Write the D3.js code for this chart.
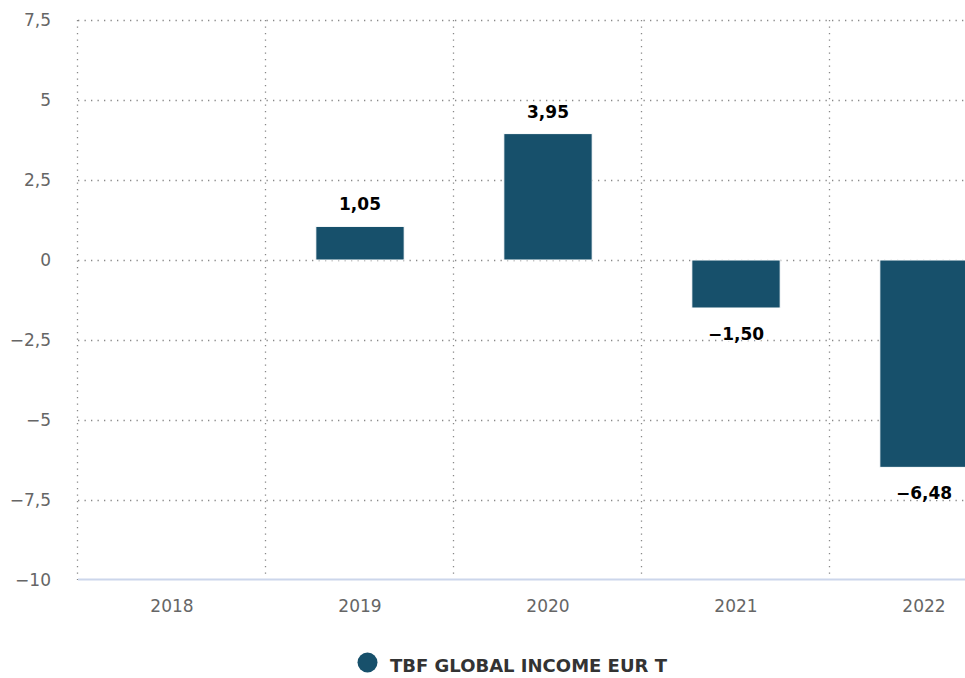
<!DOCTYPE html>
<html>
<head>
<meta charset="utf-8">
<script src="https://cdn.jsdelivr.net/npm/d3@7"></script>
<style>
  body { margin: 0; background: #fff; }
  svg { display: block; font-family: "DejaVu Sans", Verdana, sans-serif; }
</style>
</head>
<body>
<svg id="chart"></svg>
<script>
var years = ["2018", "2019", "2020", "2021", "2022"];
var values = [null, 1.05, 3.95, -1.50, -6.48];
var yTicks = [-10, -7.5, -5, -2.5, 0, 2.5, 5, 7.5];
var seriesName = "TBF GLOBAL INCOME EUR T";

var W = 965, H = 678;
var margin = { top: 20, right: -53, bottom: 98, left: 78 },
    width = W - margin.left - margin.right,
    height = H - margin.top - margin.bottom;

var svg = d3.select("#chart").attr("width", W).attr("height", H);
var g = svg.append("g").attr("transform", "translate(" + margin.left + "," + margin.top + ")");

var x = d3.scaleBand().domain(years).range([0, width]).paddingInner(0.53).paddingOuter(0.265);
var xGrid = d3.scaleBand().domain(years).range([0, width]);
var y = d3.scaleLinear().domain([-10, 7.5]).range([height, 0]);

var fmt = function (v) { return d3.format(",.1f")(v).replace(".", ",").replace(/,0$/, "").replace("-", "−"); };
var fmt2 = function (v) { return d3.format(".2f")(v).replace(".", ",").replace("-", "–"); };

// horizontal grid
g.append("g").selectAll("line").data(yTicks.filter(function (d) { return d > -10; }))
  .enter().append("line")
  .attr("x1", 0).attr("x2", W - margin.left)
  .attr("y1", function (d) { return y(d) + 0.5; }).attr("y2", function (d) { return y(d) + 0.5; })
  .attr("stroke", "#888").attr("stroke-width", 1.3).attr("stroke-dasharray", "1.3,5.2");

// vertical grid
g.append("g").selectAll("line").data(years)
  .enter().append("line")
  .attr("x1", function (d) { return xGrid(d) - 0.5; }).attr("x2", function (d) { return xGrid(d) - 0.5; })
  .attr("y1", 0).attr("y2", height)
  .attr("stroke", "#888").attr("stroke-width", 1.3).attr("stroke-dasharray", "1.3,5.2");

// x axis line
g.append("line").attr("x1", 0).attr("x2", W - margin.left)
  .attr("y1", height - 0.5).attr("y2", height - 0.5)
  .attr("stroke", "#ccd6eb").attr("stroke-width", 2);

// y labels
g.append("g").selectAll("text").data(yTicks).enter().append("text")
  .attr("x", -27).attr("y", function (d) { return y(d); })
  .attr("dy", "0.35em").attr("text-anchor", "end")
  .attr("fill", "#666").style("font-size", "17px")
  .text(fmt);

// x labels
g.append("g").selectAll("text").data(years).enter().append("text")
  .attr("x", function (d) { return xGrid(d) + xGrid.bandwidth() / 2; })
  .attr("y", height + 32)
  .attr("text-anchor", "middle").attr("fill", "#666").style("font-size", "17px")
  .text(function (d) { return d; });

var data = years.map(function (d, i) { return { year: d, value: values[i] }; })
  .filter(function (d) { return d.value !== null; });

// bars
g.append("g").selectAll("rect").data(data).enter().append("rect")
  .attr("x", function (d) { return x(d.year); })
  .attr("width", x.bandwidth())
  .attr("y", function (d) { return y(Math.max(0, d.value)); })
  .attr("height", function (d) { return Math.abs(y(d.value) - y(0)); })
  .attr("fill", "#17506b").attr("stroke", "#fff").attr("stroke-width", 1);

// data labels
g.append("g").selectAll("text").data(data).enter().append("text")
  .attr("x", function (d) { return x(d.year) + x.bandwidth() / 2; })
  .attr("y", function (d) { return d.value >= 0 ? y(d.value) - 16 : y(d.value) + 32; })
  .attr("text-anchor", "middle")
  .style("font-size", "17px").style("font-weight", "bold")
  .attr("fill", "#000").attr("stroke", "#fff").attr("stroke-width", 2).attr("paint-order", "stroke")
  .text(function (d) { return fmt2(d.value); });

// legend
var lg = svg.append("g");
lg.append("circle").attr("cx", 367.5).attr("cy", 662.5).attr("r", 10).attr("fill", "#17506b");
lg.append("text").attr("x", 390).attr("y", 672)
  .style("font-size", "18px").style("font-weight", "bold").attr("fill", "#333")
  .text(seriesName);
</script>
</body>
</html>
